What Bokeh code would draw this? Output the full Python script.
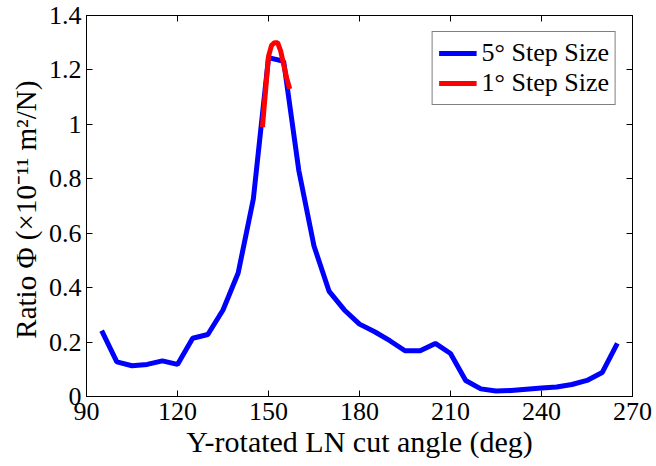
from bokeh.plotting import figure
from bokeh.models import (Range1d, FixedTicker, LinearAxis, Legend, LegendItem,
                          CustomJSTickFormatter)
from bokeh.embed import file_html
from bokeh.resources import INLINE

# 5 degree step data
angle_5 = [95, 100, 105, 110, 115, 120, 125, 130, 135, 140, 145, 150, 155, 160,
           165, 170, 175, 180, 185, 190, 195, 200, 205, 210, 215, 220, 225, 230,
           235, 240, 245, 250, 255, 260, 265]
ratio_5 = [0.242, 0.127, 0.113, 0.118, 0.131, 0.118, 0.214, 0.228, 0.318, 0.454,
           0.726, 1.245, 1.232, 0.830, 0.553, 0.386, 0.318, 0.266, 0.238, 0.205,
           0.168, 0.168, 0.195, 0.158, 0.059, 0.028, 0.020, 0.022, 0.027, 0.031,
           0.035, 0.044, 0.059, 0.088, 0.195]

# 1 degree step data
angle_1 = [148, 149, 150, 151, 152, 153, 154, 155, 156, 157]
ratio_1 = [0.99, 1.12, 1.25, 1.29, 1.30, 1.30, 1.27, 1.22, 1.17, 1.13]

x_ticks = [90, 120, 150, 180, 210, 240, 270]
y_ticks = [0, 0.2, 0.4, 0.6, 0.8, 1, 1.2, 1.4]
y_tick_labels = ["0", "0.2", "0.4", "0.6", "0.8", "1", "1.2", "1.4"]

FONT = "Liberation Serif"

p = figure(width=656, height=466, output_backend="svg", toolbar_location=None,
           x_range=Range1d(90, 270), y_range=Range1d(0, 1.4),
           min_border_left=86, min_border_right=24, min_border_top=15, min_border_bottom=70)

p.xgrid.visible = False
p.ygrid.visible = False
p.outline_line_color = "black"
p.outline_line_width = 1
p.background_fill_color = "white"
p.border_fill_color = "white"

r5 = p.line(angle_5, ratio_5, line_color="#0000FF", line_width=5)
r1 = p.line(angle_1, ratio_1, line_color="#FF0000", line_width=5)

for ax in p.xaxis:
    ax.ticker = FixedTicker(ticks=x_ticks)
    ax.axis_label = "Y-rotated LN cut angle (deg)"
    ax.major_label_standoff = 6
    ax.axis_label_standoff = 2
    ax.axis_label_text_font_size = "30px"
for ax in p.yaxis:
    ax.ticker = FixedTicker(ticks=y_ticks)
    ax.major_label_overrides = {t: l for t, l in zip(y_ticks, y_tick_labels)}
    ax.axis_label = "Ratio Φ  (×10⁻¹¹ m²/N)"
    ax.major_label_standoff = 5
    ax.axis_label_standoff = 4
    ax.axis_label_text_font_size = "29px"

for ax in p.xaxis + p.yaxis:
    ax.major_tick_in = 6
    ax.major_tick_out = 0
    ax.minor_tick_in = 0
    ax.minor_tick_out = 0
    ax.axis_line_color = "black"
    ax.major_label_text_font = FONT
    ax.major_label_text_font_size = "26px"
    ax.major_label_text_color = "black"
    ax.axis_label_text_font = FONT
    ax.axis_label_text_font_style = "normal"
    ax.axis_label_text_color = "black"

# mirrored ticks on top and right (no labels)
blank = CustomJSTickFormatter(code="return ''")
top = LinearAxis(ticker=FixedTicker(ticks=x_ticks), major_tick_in=6, major_tick_out=0,
                 minor_tick_in=0, minor_tick_out=0, formatter=blank,
                 major_label_standoff=0)
right = LinearAxis(ticker=FixedTicker(ticks=y_ticks), major_tick_in=6, major_tick_out=0,
                   minor_tick_in=0, minor_tick_out=0, formatter=blank,
                   major_label_standoff=0)
p.add_layout(top, "above")
p.add_layout(right, "right")

legend = Legend(items=[LegendItem(label="5° Step Size", renderers=[r5]),
                       LegendItem(label="1° Step Size", renderers=[r1])],
                location="top_right")
legend.label_text_font = FONT
legend.label_text_font_size = "26px"
legend.label_text_color = "black"
legend.border_line_color = "black"
legend.border_line_width = 1
legend.glyph_width = 38
legend.label_standoff = 5
legend.padding = 6
legend.spacing = 0
legend.margin = 16
legend.label_height = 30
legend.glyph_height = 30
p.add_layout(legend)

open("out.html", "w").write(file_html(p, INLINE))
